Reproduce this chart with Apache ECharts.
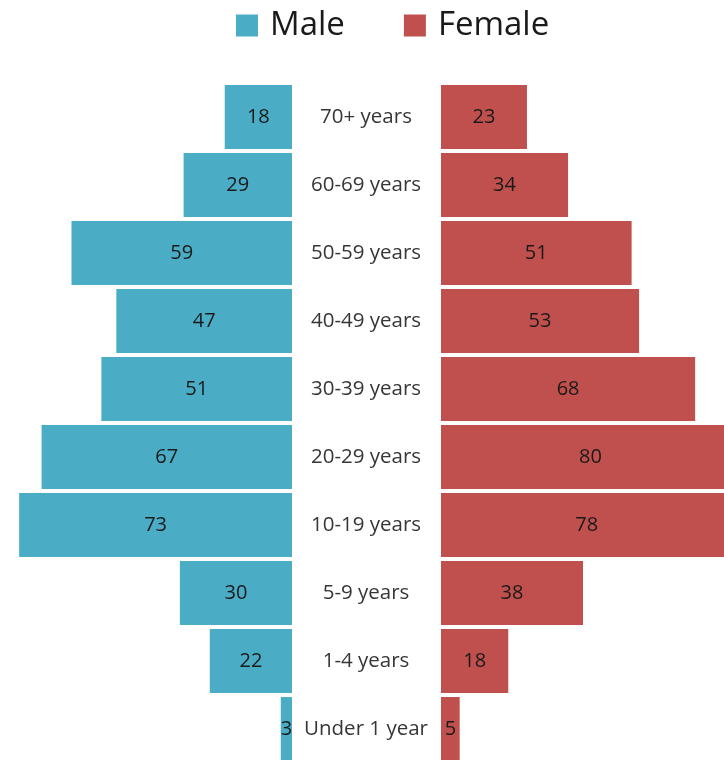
<!DOCTYPE html>
<html>
<head>
<meta charset="utf-8">
<script src="https://cdn.jsdelivr.net/npm/echarts@6/dist/echarts.min.js"></script>
<style>
  html, body { margin: 0; padding: 0; background: #fff; }
  #chart { width: 724px; height: 760px; }
</style>
</head>
<body>
<div id="chart"></div>
<script>
// age groups, top to bottom
const ageGroups = ['70+ years', '60-69 years', '50-59 years', '40-49 years', '30-39 years',
  '20-29 years', '10-19 years', '5-9 years', '1-4 years', 'Under 1 year'];
const maleValues = [18, 29, 59, 47, 51, 67, 73, 30, 22, 3];
const femaleValues = [23, 34, 51, 53, 68, 80, 78, 38, 18, 5];

const MALE = '#4BACC6';
const FEMALE = '#C0504D';
const FONT = '"Open Sans", sans-serif';

const chart = echarts.init(document.getElementById('chart'));

const barLabel = {
  show: true,
  position: 'inside',
  color: '#1a1a1a',
  fontSize: 20,
  fontFamily: FONT
};

let option = {
  backgroundColor: '#ffffff',
  animation: false,
  legend: {
    left: 236,
    top: 9,
    padding: 0,
    itemWidth: 22,
    itemHeight: 22,
    itemGap: 59,
    icon: 'rect',
    textStyle: { fontSize: 33, fontFamily: FONT, color: '#1a1a1a', padding: [0, 0, 0, 7] },
    data: ['Male', 'Female']
  },
  // the right grid runs past the canvas edge so the longest female bars are cut off
  grid: [
    { left: -7, top: 83, width: 299, height: 680, outerBoundsMode: 'none' },
    { left: 441, top: 83, width: 299, height: 680, outerBoundsMode: 'none' }
  ],
  xAxis: [
    { gridIndex: 0, type: 'value', min: 0, max: 80, inverse: true, show: false },
    { gridIndex: 1, type: 'value', min: 0, max: 80, show: false }
  ],
  yAxis: [
    {
      gridIndex: 0, type: 'category', data: ageGroups, inverse: true, position: 'right',
      axisLine: { show: false }, axisTick: { show: false },
      axisLabel: { margin: 74, align: 'center', fontSize: 20.5, fontFamily: FONT, color: '#363636' }
    },
    {
      gridIndex: 1, type: 'category', data: ageGroups, inverse: true,
      axisLine: { show: false }, axisTick: { show: false }, axisLabel: { show: false }
    }
  ],
  series: [
    {
      name: 'Male', type: 'bar', xAxisIndex: 0, yAxisIndex: 0,
      data: maleValues, barCategoryGap: '6%',
      itemStyle: { color: MALE }, label: barLabel
    },
    {
      name: 'Female', type: 'bar', xAxisIndex: 1, yAxisIndex: 1,
      data: femaleValues, barCategoryGap: '6%',
      itemStyle: { color: FEMALE }, label: barLabel
    }
  ]
};

chart.setOption(option);
</script>
</body>
</html>
